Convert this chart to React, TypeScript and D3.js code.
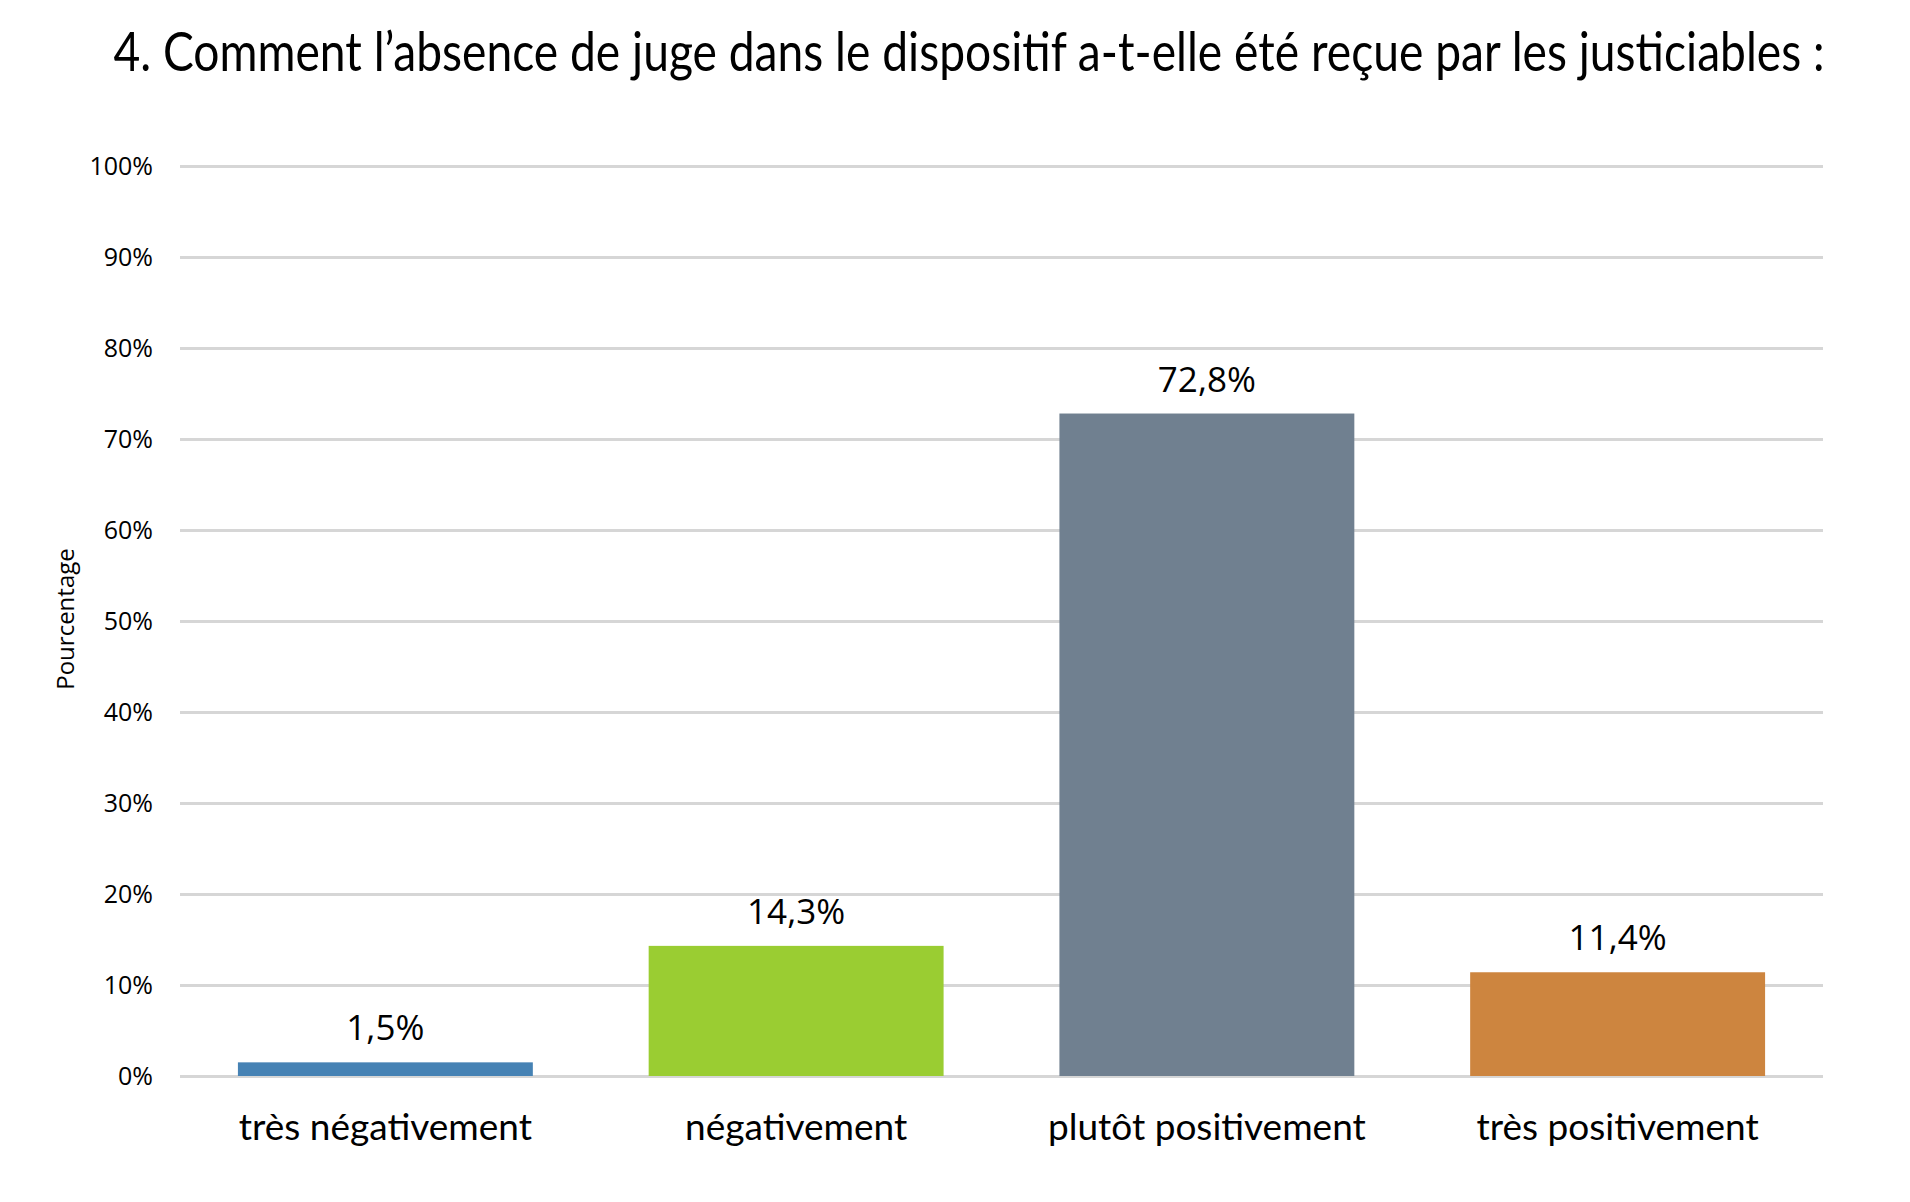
// App.tsx
import React, { useRef, useEffect } from 'react';
import * as d3 from 'd3';

// Chart data
const categories = [
    'très négativement',
    'négativement',
    'plutôt positivement',
    'très positivement',
];
const values = [1.5, 14.3, 72.8, 11.4];
const valueLabels = ['1,5%', '14,3%', '72,8%', '11,4%'];
const barColors = ['#4682B4', '#9ACD32', '#708090', '#CD853F'];
const yTicks = [0, 10, 20, 30, 40, 50, 60, 70, 80, 90, 100];

const title =
    '4. Comment l\u2019absence de juge dans le dispositif a-t-elle été reçue par les justiciables :';
const yAxisTitle = 'Pourcentage';

const W = 1910;
const H = 1202;

const App: React.FC = () => {
    const svgRef = useRef<SVGSVGElement | null>(null);

    useEffect(() => {
        document.body.style.margin = '0';
        if (!svgRef.current) return;

        const svg = d3.select(svgRef.current);
        svg.selectAll('*').remove();

        // plot area
        const margin = { top: 166, right: 87, bottom: 126, left: 180 };
        const innerWidth = W - margin.left - margin.right;
        const innerHeight = H - margin.top - margin.bottom;

        const gridColor = '#D6D6D6';
        const textColor = '#000000';

        const x = d3
            .scaleBand()
            .domain(categories)
            .range([0, innerWidth])
            .paddingInner(0.282)
            .paddingOuter(0.141);

        const y = d3.scaleLinear().domain([0, 100]).range([innerHeight, 0]);

        // title, squeezed horizontally like the original condensed font
        const titleText = svg
            .append('text')
            .attr('text-anchor', 'middle')
            .attr('font-family', 'Lato, sans-serif')
            .attr('font-size', 55)
            .attr('fill', textColor)
            .text(title);
        const natural = (titleText.node() as SVGTextElement).getComputedTextLength() || 1712;
        titleText.attr(
            'transform',
            `translate(969,71) scale(${1712 / natural},1)`,
        );

        const g = svg
            .append('g')
            .attr('transform', `translate(${margin.left},${margin.top})`);

        // y axis with gridlines
        const yAxis = g
            .append('g')
            .call(
                d3
                    .axisLeft(y)
                    .tickValues(yTicks)
                    .tickSize(-innerWidth)
                    .tickPadding(27)
                    .tickFormat((d) => `${d}%`),
            );
        yAxis.select('.domain').remove();
        yAxis
            .selectAll('.tick line')
            .attr('stroke', gridColor)
            .attr('stroke-width', 3);
        yAxis
            .selectAll('.tick text')
            .attr('fill', textColor)
            .attr('font-family', '"Open Sans", sans-serif')
            .attr('font-size', 25);

        // y axis title
        svg.append('text')
            .attr('transform', `translate(74,619) rotate(-90)`)
            .attr('text-anchor', 'middle')
            .attr('font-family', '"Open Sans", sans-serif')
            .attr('font-size', 24)
            .attr('fill', textColor)
            .text(yAxisTitle);

        // bars
        g.selectAll('.bar')
            .data(values)
            .enter()
            .append('rect')
            .attr('class', 'bar')
            .attr('x', (_d, i) => x(categories[i])!)
            .attr('width', x.bandwidth())
            .attr('y', (d) => y(d))
            .attr('height', (d) => innerHeight - y(d))
            .attr('fill', (_d, i) => barColors[i]);

        // value labels
        g.selectAll('.value-label')
            .data(values)
            .enter()
            .append('text')
            .attr('class', 'value-label')
            .attr('x', (_d, i) => x(categories[i])! + x.bandwidth() / 2)
            .attr('y', (d) => y(d) - 22)
            .attr('text-anchor', 'middle')
            .attr('font-family', '"Open Sans", sans-serif')
            .attr('font-size', 35)
            .attr('fill', textColor)
            .text((_d, i) => valueLabels[i]);

        // category labels
        const xAxis = g
            .append('g')
            .attr('transform', `translate(0,${innerHeight})`)
            .call(d3.axisBottom(x).tickSize(0).tickPadding(38));
        xAxis.select('.domain').remove();
        xAxis
            .selectAll('.tick text')
            .attr('fill', textColor)
            .attr('font-family', 'Lato, sans-serif')
            .attr('font-size', 37);
    }, []);

    return (
        <svg
            ref={svgRef}
            width={W}
            height={H}
            style={{ display: 'block', background: '#ffffff' }}
        ></svg>
    );
};

export default App;
